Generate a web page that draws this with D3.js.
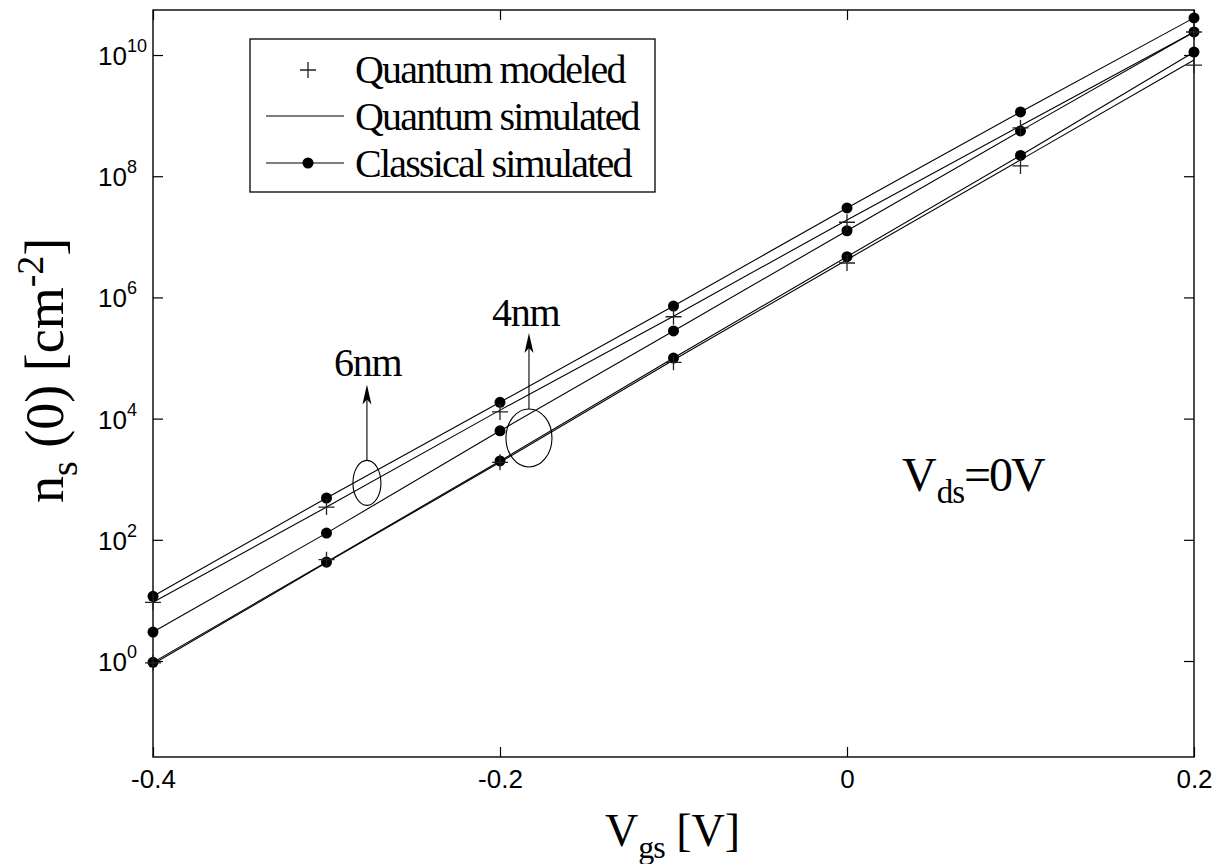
<!DOCTYPE html>
<html>
<head>
<meta charset="utf-8">
<script src="https://cdn.jsdelivr.net/npm/d3@7"></script>
<style>
  html, body { margin: 0; padding: 0; background: #fff; }
  svg { display: block; }
  .serif { font-family: "Liberation Serif", "Times New Roman", serif; }
  .sans { font-family: "Liberation Sans", Arial, sans-serif; }
</style>
</head>
<body>
<svg id="chart" width="1220" height="864"></svg>
<script>
// Gate voltage sweep (V)
const vgs = [-0.4, -0.3, -0.2, -0.1, 0, 0.1, 0.2];

// Sheet carrier density n_s(0) in cm^-2
const classicalUpper  = [11.7, 490, 1.86e4, 7.2e5, 3.0e7, 1.15e9, 4.1e10];
const classicalMiddle = [3.0, 129, 6.3e3, 2.8e5, 1.26e7, 5.6e8, 2.4e10];
const classicalLower  = [0.95, 43, 2.0e3, 1.0e5, 4.7e6, 2.2e8, 1.12e10];
const simulated6nm    = [9.3, 347, 1.38e4, 4.9e5, 1.9e7, 6.8e8, 2.4e10];
const simulated4nm    = [0.89, 42, 1.9e3, 9.3e4, 4.2e6, 1.86e8, 8.3e9];
const modeled6nm      = [9.3, 347, 1.29e4, 4.8e5, 1.74e7, 6.3e8, 2.4e10];
const modeled4nm      = [0.93, 47, 1.9e3, 8.5e4, 3.7e6, 1.48e8, 6.8e9];

// Axis ticks
const xTicks = [-0.4, -0.2, 0, 0.2];
const xTickLabels = ["-0.4", "-0.2", "0", "0.2"];
const yExponents = [0, 2, 4, 6, 8, 10];

// Legend entries
const legendLabels = ["Quantum modeled", "Quantum simulated", "Classical simulated"];

const svg = d3.select("#chart");
const L = 153, R = 1194, T = 10, B = 757;

const x = d3.scaleLinear().domain([-0.4, 0.2]).range([L, R]);
const y = d3.scaleLog().domain([Math.pow(10, -1.584), Math.pow(10, 10.743)]).range([B, T]);

const zip = (vals) => vals.map((n, i) => ({ v: vgs[i], n }));
const line = d3.line().x(d => x(d.v)).y(d => y(d.n));

// Axes with inward ticks on all four sides
const tickLen = 10;
const gB = svg.append("g").attr("transform", `translate(0,${B})`)
  .call(d3.axisBottom(x).tickValues(xTicks).tickSize(-tickLen).tickPadding(13)
    .tickFormat((d, i) => xTickLabels[i]));
const gT = svg.append("g").attr("transform", `translate(0,${T})`)
  .call(d3.axisTop(x).tickValues(xTicks).tickSize(-tickLen).tickFormat(""));
const yTickVals = yExponents.map(e => Math.pow(10, e));
const gL = svg.append("g").attr("transform", `translate(${L},0)`)
  .call(d3.axisLeft(y).tickValues(yTickVals).tickSize(-tickLen).tickFormat(""));
const gR = svg.append("g").attr("transform", `translate(${R},0)`)
  .call(d3.axisRight(y).tickValues(yTickVals).tickSize(-tickLen).tickFormat(""));

[gB, gT, gL, gR].forEach(g => {
  g.select(".domain").remove();
  g.selectAll(".tick line").attr("stroke", "#000").attr("stroke-width", 1.2);
});
gB.selectAll(".tick text")
  .attr("class", "sans").attr("font-size", 26).attr("fill", "#000");

// Power-of-ten labels on the left axis
gL.selectAll(".tick").each(function(d, i) {
  const t = d3.select(this).append("text")
    .attr("class", "sans")
    .attr("x", 98 - L).attr("y", 9.5)
    .attr("text-anchor", "start").attr("font-size", 26).attr("fill", "#000");
  t.append("tspan").text("10");
  t.append("tspan").attr("dy", -13).attr("font-size", 18).text(String(yExponents[i]));
});

// Plot frame
svg.append("rect")
  .attr("x", L).attr("y", T).attr("width", R - L).attr("height", B - T)
  .attr("fill", "none").attr("stroke", "#000").attr("stroke-width", 1.4);

const plot = svg.append("g");

// Simulated curves
[simulated6nm, simulated4nm, classicalUpper, classicalMiddle, classicalLower].forEach(s => {
  plot.append("path").datum(zip(s))
    .attr("d", line).attr("fill", "none").attr("stroke", "#000").attr("stroke-width", 1.1);
});

// Classical markers
[classicalUpper, classicalMiddle, classicalLower].forEach(s => {
  plot.selectAll(null).data(zip(s)).enter().append("circle")
    .attr("cx", d => x(d.v)).attr("cy", d => y(d.n)).attr("r", 5.5).attr("fill", "#000");
});

// Modeled points (plus markers)
const plusPath = (cx, cy, h) => `M${cx - h},${cy}H${cx + h}M${cx},${cy - h}V${cy + h}`;
[modeled6nm, modeled4nm].forEach(s => {
  plot.selectAll(null).data(zip(s)).enter().append("path")
    .attr("d", d => plusPath(x(d.v), y(d.n), 8))
    .attr("fill", "none").attr("stroke", "#222").attr("stroke-width", 1.3);
});

// Thickness annotations: ellipse around the curve group, arrow and label
function annotate(vx, vn, rx, ry, arrowLen, label, labelDx, labelDy) {
  const cx = x(vx), cy = y(vn);
  plot.append("ellipse").attr("cx", cx).attr("cy", cy).attr("rx", rx).attr("ry", ry)
    .attr("fill", "none").attr("stroke", "#000").attr("stroke-width", 1.1);
  const y0 = cy - ry, tip = y0 - arrowLen;
  plot.append("line").attr("x1", cx).attr("x2", cx).attr("y1", y0).attr("y2", tip + 14)
    .attr("stroke", "#000").attr("stroke-width", 1.1);
  plot.append("path")
    .attr("d", `M${cx},${tip}L${cx + 4.5},${tip + 20}L${cx},${tip + 15}L${cx - 4.5},${tip + 20}Z`)
    .attr("fill", "#000");
  plot.append("text").attr("class", "serif")
    .attr("x", cx + labelDx).attr("y", tip + labelDy)
    .attr("font-size", 40).attr("letter-spacing", -1.2).attr("fill", "#000").text(label);
}
annotate(-0.2767, 870, 14, 22.5, 76, "6nm", -33, -8);
annotate(-0.1833, 4.8e3, 23, 29, 76, "4nm", -37, -7);

// Bias condition
const vds = svg.append("text").attr("class", "serif")
  .attr("x", 902).attr("y", 491).attr("font-size", 48).attr("fill", "#000");
vds.append("tspan").text("V");
vds.append("tspan").attr("dy", 12).attr("font-size", 33).attr("letter-spacing", -1).text("ds");
vds.append("tspan").attr("dy", -12).attr("letter-spacing", -2).text("=0V");

// Legend
const lg = svg.append("g");
lg.append("rect").attr("x", 250).attr("y", 39).attr("width", 405).attr("height", 153)
  .attr("fill", "#fff").attr("stroke", "#000").attr("stroke-width", 1.3);
const rowY = [70, 116, 163];
const baseY = [83, 130, 177];
lg.append("path").attr("d", plusPath(308, rowY[0], 8))
  .attr("fill", "none").attr("stroke", "#222").attr("stroke-width", 1.3);
lg.append("line").attr("x1", 266).attr("x2", 344).attr("y1", rowY[1]).attr("y2", rowY[1])
  .attr("stroke", "#000").attr("stroke-width", 1.1);
lg.append("line").attr("x1", 266).attr("x2", 344).attr("y1", rowY[2]).attr("y2", rowY[2])
  .attr("stroke", "#000").attr("stroke-width", 1.1);
lg.append("circle").attr("cx", 308).attr("cy", rowY[2]).attr("r", 5.5).attr("fill", "#000");
legendLabels.forEach((t, i) => {
  lg.append("text").attr("class", "serif").attr("x", 355).attr("y", baseY[i])
    .attr("font-size", 40).attr("letter-spacing", -1.8).attr("fill", "#000").text(t);
});

// Axis titles
const xt = svg.append("text").attr("class", "serif")
  .attr("x", 605).attr("y", 846).attr("font-size", 46).attr("fill", "#000");
xt.append("tspan").text("V");
xt.append("tspan").attr("dy", 12).attr("font-size", 32).attr("letter-spacing", -1).text("gs");
xt.append("tspan").attr("dy", -12).text(" [V]");

const yt = svg.append("text").attr("class", "serif")
  .attr("transform", "translate(63,503) rotate(-90)")
  .attr("font-size", 54).attr("fill", "#000");
yt.append("tspan").text("n");
yt.append("tspan").attr("dy", 14).attr("font-size", 38).text("s");
yt.append("tspan").attr("dy", -14).text(" (0) [cm");
yt.append("tspan").attr("dy", -20).attr("font-size", 38).text("-2");
yt.append("tspan").attr("dy", 20).text("]");
</script>
</body>
</html>
